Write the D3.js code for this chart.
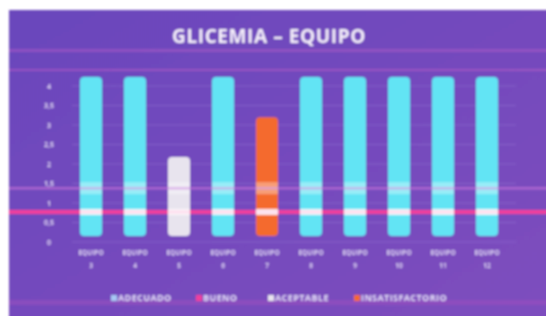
<!DOCTYPE html>
<html>
<head>
<meta charset="utf-8">
<script src="https://cdn.jsdelivr.net/npm/d3@7"></script>
<style>
  body { margin: 0; background: #fff; }
  svg { display: block; }
</style>
</head>
<body>
<div id="chart"></div>
<script>
// Data
var equipos = ["3", "4", "5", "6", "7", "8", "9", "10", "11", "12"];
var valores = [4.23, 4.23, 2.18, 4.23, 3.2, 4.23, 4.23, 4.23, 4.23, 4.23];
var estados = ["ADECUADO", "ADECUADO", "ACEPTABLE", "ADECUADO", "INSATISFACTORIO",
               "ADECUADO", "ADECUADO", "ADECUADO", "ADECUADO", "ADECUADO"];
var categorias = ["ADECUADO", "BUENO", "ACEPTABLE", "INSATISFACTORIO"];
var colores = ["#62e4f4", "#f0409c", "#e8e4ee", "#f46a2e"];
var yTicks = [0, 0.5, 1, 1.5, 2, 2.5, 3, 3.5, 4];
var lineaBueno = 0.77;
var lineaSuave = 1.38;

var W = 546, H = 316;
var margin = {top: 86, right: 26, bottom: 74, left: 58};
var width = W - margin.left - margin.right;
var height = H - margin.top - margin.bottom;

var svg = d3.select("#chart").append("svg")
  .attr("width", W)
  .attr("height", H);

var defs = svg.append("defs");
defs.append("filter").attr("id", "blur")
  .attr("filterUnits", "userSpaceOnUse")
  .attr("x", 0).attr("y", 0).attr("width", W).attr("height", H)
  .append("feGaussianBlur").attr("stdDeviation", 0.9);

var bg = defs.append("linearGradient").attr("id", "bg")
  .attr("x1", 0).attr("y1", 0).attr("x2", 1).attr("y2", 1);
bg.append("stop").attr("offset", "0%").attr("stop-color", "#6a46bc");
bg.append("stop").attr("offset", "100%").attr("stop-color", "#7e4ebe");

var root = svg.append("g").attr("filter", "url(#blur)");

// Panel
root.append("rect")
  .attr("x", 9).attr("y", 10)
  .attr("width", W - 9 + 4).attr("height", H - 10 + 4)
  .attr("fill", "url(#bg)");

// decorative bands
root.append("rect").attr("x", 9).attr("y", 49).attr("width", W).attr("height", 3)
  .attr("fill", "#b05cc8").attr("opacity", 0.5);
root.append("rect").attr("x", 9).attr("y", 69).attr("width", W).attr("height", 2)
  .attr("fill", "#c060c8").attr("opacity", 0.5);
root.append("rect").attr("x", 9).attr("y", 300).attr("width", W).attr("height", 5)
  .attr("fill", "#a050c0").attr("opacity", 0.5);

var g = root.append("g")
  .attr("transform", "translate(" + margin.left + "," + margin.top + ")");

var x = d3.scaleBand().domain(equipos).range([0, width]).padding(0.5);
var y = d3.scaleLinear().domain([0, 4]).range([height, 0]);
var base = 6; // bars sit slightly above the zero line

// Title
root.append("text")
  .attr("x", 269).attr("y", 43)
  .attr("text-anchor", "middle")
  .attr("fill", "#f4eefa")
  .style("font-family", "Open Sans")
  .style("font-weight", "bold")
  .style("font-size", "19px")
  .style("letter-spacing", "0.6px")
  .text("GLICEMIA – EQUIPO");

// Grid
g.selectAll(".grid").data(yTicks).enter().append("line")
  .attr("x1", 14).attr("x2", width - 4)
  .attr("y1", d => y(d)).attr("y2", d => y(d))
  .attr("stroke", "#9a78d8").attr("stroke-width", 0.8).attr("opacity", 0.55);

// Y axis
var yAxis = g.append("g").attr("transform", "translate(-2,0)")
  .call(d3.axisLeft(y).tickValues(yTicks).tickSize(0)
    .tickFormat(d => String(d).replace(".", ",")));
yAxis.select(".domain").remove();
yAxis.selectAll("text")
  .attr("fill", "#ddd0f4")
  .style("font-family", "Open Sans")
  .style("font-weight", "bold")
  .style("font-size", "7px")
  .attr("text-anchor", "middle")
  .attr("dx", "-4");

// Bars
g.selectAll(".bar").data(equipos).enter().append("rect")
  .attr("x", d => x(d))
  .attr("y", (d, i) => y(valores[i]))
  .attr("width", x.bandwidth())
  .attr("height", (d, i) => y(0) - base - y(valores[i]))
  .attr("rx", 4)
  .attr("fill", (d, i) => colores[categorias.indexOf(estados[i])]);

// Reference lines
g.append("line")
  .attr("x1", -49).attr("x2", width + 30)
  .attr("y1", y(lineaSuave)).attr("y2", y(lineaSuave))
  .attr("stroke", "#c070d8").attr("stroke-width", 2.5).attr("opacity", 0.7);
g.append("line")
  .attr("x1", -49).attr("x2", width + 30)
  .attr("y1", y(lineaBueno)).attr("y2", y(lineaBueno))
  .attr("stroke", colores[1]).attr("stroke-width", 4);

// highlights where lines cross bars
[lineaSuave, lineaBueno].forEach(function(v, k) {
  g.selectAll(".hl" + k).data(equipos).enter().append("rect")
    .attr("x", d => x(d))
    .attr("y", y(v) - (k ? 3 : 6))
    .attr("width", x.bandwidth())
    .attr("height", k ? 6 : 12)
    .attr("fill", "#ffffff")
    .attr("opacity", k ? 0.85 : 0.35);
});

// X labels
var xl = g.selectAll(".xl").data(equipos).enter().append("text")
  .attr("x", d => x(d) + x.bandwidth() / 2)
  .attr("y", height + 13)
  .attr("text-anchor", "middle")
  .attr("fill", "#ddd0f4")
  .style("font-family", "Open Sans")
  .style("font-weight", "bold")
  .style("font-size", "6.5px");
xl.append("tspan").attr("x", d => x(d) + x.bandwidth() / 2).text("EQUIPO");
xl.append("tspan").attr("x", d => x(d) + x.bandwidth() / 2).attr("dy", 13).text(d => d);

// Legend
var legX = [111, 196, 268, 354];
var leg = root.selectAll(".leg").data(categorias).enter().append("g")
  .attr("transform", (d, i) => "translate(" + legX[i] + ",301)");
leg.append("rect").attr("x", 0).attr("y", -6).attr("width", 6).attr("height", 6)
  .attr("fill", (d, i) => i == 0 ? "#a8c8f4" : colores[i]);
leg.append("text").attr("x", 7).attr("y", 0)
  .attr("fill", "#e4dcf8")
  .style("font-family", "Open Sans")
  .style("font-size", "9px")
  .style("font-weight", "bold")
  .style("letter-spacing", "0.4px")
  .text(d => d);
</script>
</body>
</html>
